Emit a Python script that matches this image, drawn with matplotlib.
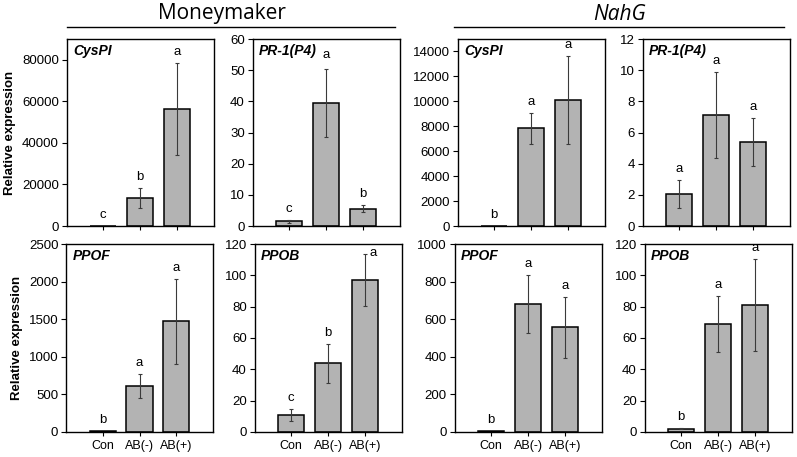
import matplotlib
matplotlib.use("Agg")
import matplotlib.pyplot as plt
import numpy as np

categories = ["Con", "AB(-)", "AB(+)"]

mm_cyspi = [1, 13500, 56300]
mm_cyspi_err = [0, 4900, 22100]
mm_pr1 = [1.5, 39.5, 5.6]
mm_pr1_err = [0.4, 10.9, 1.1]
nahg_cyspi = [5, 7850, 10100]
nahg_cyspi_err = [0, 1250, 3500]
nahg_pr1 = [2.05, 7.1, 5.4]
nahg_pr1_err = [0.88, 2.76, 1.55]

mm_ppof = [15, 615, 1470]
mm_ppof_err = [0, 162, 560]
mm_ppob = [10.7, 43.8, 96.8]
mm_ppob_err = [3.7, 12.4, 16.5]
nahg_ppof = [5, 680, 557]
nahg_ppof_err = [0, 155, 163]
nahg_ppob = [2.2, 69, 81]
nahg_ppob_err = [0.5, 18, 29.5]

mm_cyspi_letters = ["c", "b", "a"]
mm_pr1_letters = ["c", "a", "b"]
nahg_cyspi_letters = ["b", "a", "a"]
nahg_pr1_letters = ["a", "a", "a"]
mm_ppof_letters = ["b", "a", "a"]
mm_ppob_letters = ["c", "b", "a"]
nahg_ppof_letters = ["b", "a", "a"]
nahg_ppob_letters = ["b", "a", "a"]

panels = [
    # gene, values, errs, letters, ylim, ystep, row, cx
    ("CysPI", mm_cyspi, mm_cyspi_err, mm_cyspi_letters, 90000, 20000, 0, 140),
    ("PR-1(P4)", mm_pr1, mm_pr1_err, mm_pr1_letters, 60, 10, 0, 326),
    ("CysPI", nahg_cyspi, nahg_cyspi_err, nahg_cyspi_letters, 15000, 2000, 0, 531),
    ("PR-1(P4)", nahg_pr1, nahg_pr1_err, nahg_pr1_letters, 12, 2, 0, 716),
    ("PPOF", mm_ppof, mm_ppof_err, mm_ppof_letters, 2500, 500, 1, 139.5),
    ("PPOB", mm_ppob, mm_ppob_err, mm_ppob_letters, 120, 20, 1, 328),
    ("PPOF", nahg_ppof, nahg_ppof_err, nahg_ppof_letters, 1000, 200, 1, 528),
    ("PPOB", nahg_ppob, nahg_ppob_err, nahg_ppob_letters, 120, 20, 1, 718),
]

W, H = 797, 457
fig = plt.figure(figsize=(W / 100, H / 100), dpi=100)
plt.rcParams['font.family'] = ['Liberation Sans', 'DejaVu Sans']

rows = [(39, 226), (244, 432)]
pw = 147
bar_color = "#b3b3b3"

for idx, (gene, vals, errs, letters, ymax, ystep, row, cx) in enumerate(panels):
    top, bot = rows[row]
    ax = fig.add_axes([(cx - pw / 2) / W, 1 - bot / H, pw / W, (bot - top) / H])
    x = np.arange(1, len(categories) + 1)
    ax.bar(x, vals, width=0.72, color=bar_color, edgecolor="black", linewidth=1.1, zorder=2)
    e = np.array(errs, dtype=float)
    v = np.array(vals, dtype=float)
    m = e > 0
    ax.errorbar(x[m], v[m], yerr=e[m], fmt="none", ecolor="#3a3a3a", elinewidth=0.8,
                capsize=1.7, capthick=0.8, zorder=3)
    ax.set_xlim(0, 4)
    ax.set_ylim(0, ymax)
    ax.set_yticks(np.arange(0, ymax + 1e-9, ystep))
    ax.set_xticks(x)
    if row == 1:
        ax.set_xticklabels(categories, fontsize=9)
    else:
        ax.set_xticklabels([])
    ax.tick_params(axis="y", labelsize=9.5, length=3.5, width=0.8, direction="out", pad=2)
    ax.tick_params(axis="x", length=3, width=0.8, direction="out", pad=3)
    for s in ax.spines.values():
        s.set_linewidth(1.0)
        s.set_color("black")
    ax.text(0.045, 1 - 5 / (bot - top), gene, transform=ax.transAxes, ha="left", va="top",
            fontsize=10, fontweight="bold", fontstyle="italic")
    for i, (xx, letter) in enumerate(zip(x, letters)):
        ytop = v[i] + e[i]
        dx, dy = 0, 11
        if gene == "PPOB" and idx == 5 and i == 2:
            dx, dy = 8, 1
        if gene == "PR-1(P4)" and idx == 1 and i == 1:
            dy = 14
        ax.annotate(letter, (xx, ytop), xytext=(dx, dy), textcoords="offset pixels",
                    ha="center", va="center", fontsize=9.5)
    if idx in (0, 4):
        ax.set_ylabel("Relative expression", fontsize=9.5, fontweight="bold", labelpad=4)

# group headers
fig.text(222 / W, 1 - 14 / H, "Moneymaker", ha="center", va="center", fontsize=15,
         family=["Open Sans", "DejaVu Sans"])
fig.text(620 / W, 1 - 14 / H, "NahG", ha="center", va="center", fontsize=15, fontstyle="italic",
         family=["Open Sans", "DejaVu Sans"])
fig.add_artist(plt.Line2D([67 / W, 395 / W], [1 - 27 / H, 1 - 27 / H], color="black", linewidth=1.0))
fig.add_artist(plt.Line2D([454 / W, 784 / W], [1 - 27 / H, 1 - 27 / H], color="black", linewidth=1.0))

fig.savefig("out.png", dpi=100, facecolor="white")
